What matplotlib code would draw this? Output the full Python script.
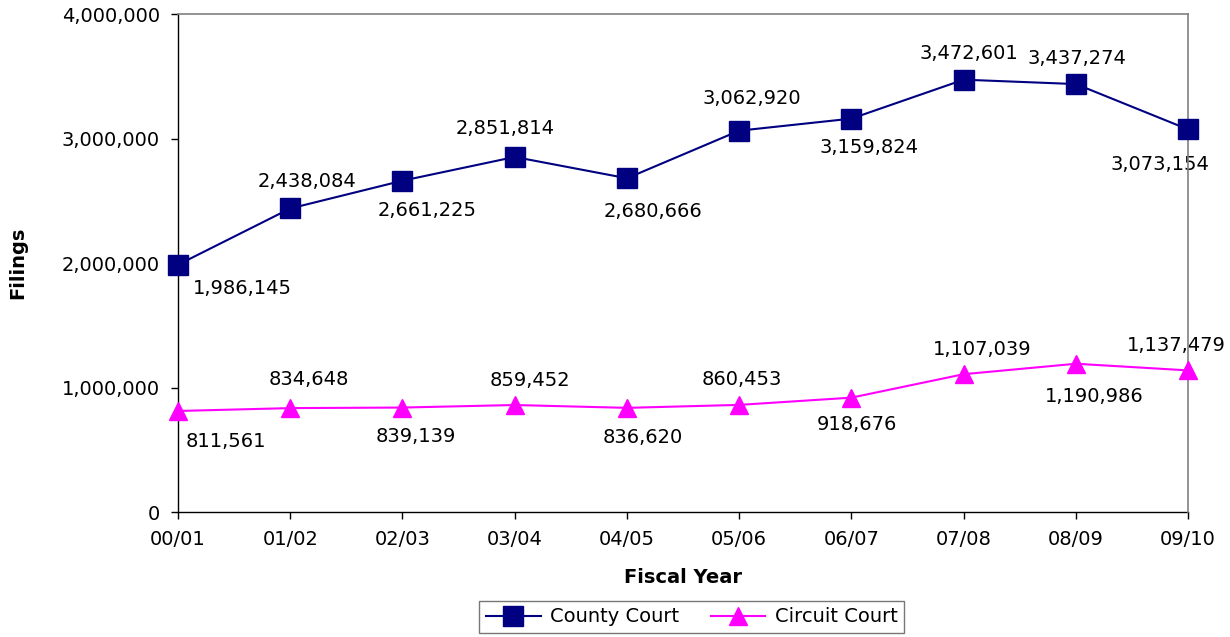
import matplotlib.pyplot as plt
from matplotlib.ticker import FuncFormatter

years = ['00/01', '01/02', '02/03', '03/04', '04/05', '05/06', '06/07', '07/08', '08/09', '09/10']
county = [1986145, 2438084, 2661225, 2851814, 2680666, 3062920, 3159824, 3472601, 3437274, 3073154]
circuit = [811561, 834648, 839139, 859452, 836620, 860453, 918676, 1107039, 1190986, 1137479]

# label offsets from each point, in pixels (x right, y up)
county_off = [(64, -24), (17, 27), (25, -30), (-10, 28), (26, -33),
              (13, 32), (18, -29), (5, 26), (1, 26), (-28, -35)]
circuit_off = [(48, -31), (19, 29), (13, -29), (15, 25), (16, -30),
               (3, 25), (5, -27), (18, 25), (18, -33), (-12, 25)]

plt.rcParams['font.family'] = ['DejaVu Sans']

fig = plt.figure(figsize=(12.3, 6.37), dpi=100)
ax = fig.add_axes([0.1447, 0.1962, 0.8213, 0.7818])

x = list(range(len(years)))
ax.plot(x, county, color='#000080', marker='s', markersize=14, linewidth=1.5,
        clip_on=False, zorder=5, label='County Court')
ax.plot(x, circuit, color='#ff00ff', marker='^', markersize=13, linewidth=1.5,
        clip_on=False, zorder=5, label='Circuit Court')

for series, offs in [(county, county_off), (circuit, circuit_off)]:
    for i, v in enumerate(series):
        dx, dy = offs[i]
        ax.annotate(f'{v:,}', (i, v), xytext=(dx * 0.72, dy * 0.72), textcoords='offset points',
                    ha='center', va='center', fontsize=14, color='black',
                    annotation_clip=False, zorder=3)

ax.set_xlim(0, 9)
ax.set_ylim(0, 4000000)
ax.set_yticks([0, 1000000, 2000000, 3000000, 4000000])
ax.yaxis.set_major_formatter(FuncFormatter(lambda v, p: f'{int(v):,}'))
ax.set_xticks(x)
ax.set_xticklabels(years)
ax.tick_params(axis='both', labelsize=14, length=5, width=1, direction='out')
ax.tick_params(axis='x', pad=8)
ax.tick_params(axis='y', pad=8)

for sp in ['top', 'right']:
    ax.spines[sp].set_color('#808080')
    ax.spines[sp].set_linewidth(1.2)
    ax.spines[sp].set_zorder(4)
for sp in ['left', 'bottom']:
    ax.spines[sp].set_linewidth(1)

ax.set_xlabel('Fiscal Year', fontsize=14, fontweight='bold')
ax.set_ylabel('Filings', fontsize=14, fontweight='bold')
ax.xaxis.set_label_coords(0.5, -0.112)
ax.yaxis.set_label_coords(-0.149, 0.5)

leg = fig.legend(loc='center', bbox_to_anchor=(0.5625, 0.0315), ncol=2, fontsize=14,
                 frameon=True, fancybox=False, edgecolor='#555555', handlelength=2.8,
                 columnspacing=1.6, handletextpad=0.5, borderpad=0.35)
leg.get_frame().set_linewidth(1)

fig.savefig('out.png', dpi=100)
